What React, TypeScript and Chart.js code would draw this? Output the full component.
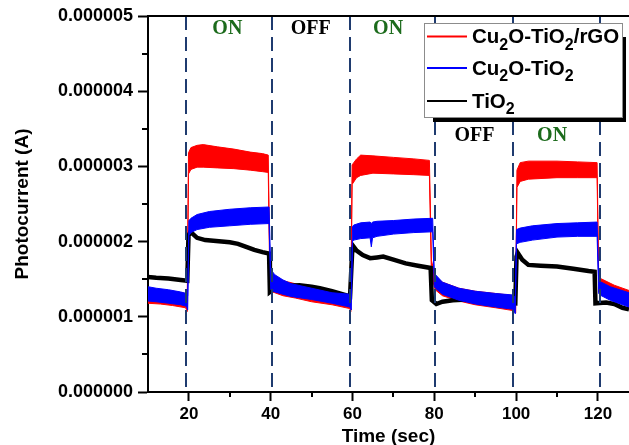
import React, { useEffect, useRef } from 'react';
import { Chart, registerables } from 'chart.js';

Chart.register(...registerables);

// ---- axes ----
const xTickValues = [20, 40, 60, 80, 100, 120];
const xMinorTicks = [30, 50, 70, 90, 110];
const yTickValues = [0, 1, 2, 3, 4, 5]; // in µA
const yTickLabels = ['0.000000', '0.000001', '0.000002', '0.000003', '0.000004', '0.000005'];
const yMinorTicks = [0.5, 1.5, 2.5, 3.5, 4.5];

// ---- legend / series ----
const seriesNames = ['Cu_2O-TiO_2/rGO', 'Cu_2O-TiO_2', 'TiO_2'];
const seriesColors = ['#ff0000', '#0000ff', '#000000'];

// ---- light switching annotations ----
const switchTimes = [19.2, 40.4, 59.5, 80.1, 99.2, 120.6];
const stateLabels = ['ON', 'OFF', 'ON', 'OFF', 'ON'];
const stateLabelX = [29.4, 49.8, 68.7, 89.8, 108.8];
const stateLabelY = [4.83, 4.83, 4.83, 3.40, 3.40];

// ---- Cu2O-TiO2/rGO (red) noisy band, values in µA ----
const redTime = [10, 13, 16, 19.2, 19.6, 19.9, 20.5, 22, 23.5, 27, 31, 35, 38, 39.4, 39.8, 40.5, 43, 46, 50, 55, 59.3, 59.6, 59.9, 61, 62, 65, 70, 75, 78.8, 79.3, 80.2, 82, 86, 90, 95, 99.6, 99.9, 100.2, 101, 103, 110, 115, 119.8, 120.2, 121, 124, 127.6];
const redUpper = [1.38, 1.36, 1.34, 1.31, 1.25, 3.18, 3.25, 3.28, 3.29, 3.26, 3.23, 3.19, 3.17, 3.15, 1.62, 1.56, 1.48, 1.44, 1.38, 1.33, 1.29, 1.25, 3.02, 3.10, 3.15, 3.14, 3.12, 3.10, 3.08, 1.75, 1.54, 1.46, 1.38, 1.34, 1.31, 1.28, 1.25, 2.95, 3.05, 3.07, 3.07, 3.06, 3.05, 1.52, 1.50, 1.42, 1.35];
const redLower = [1.18, 1.17, 1.15, 1.12, 1.07, 2.90, 2.96, 2.99, 2.99, 2.98, 2.97, 2.95, 2.93, 2.92, 1.40, 1.33, 1.28, 1.25, 1.20, 1.16, 1.11, 1.07, 2.76, 2.85, 2.88, 2.91, 2.90, 2.89, 2.88, 1.55, 1.36, 1.28, 1.21, 1.16, 1.12, 1.08, 1.05, 2.72, 2.80, 2.83, 2.85, 2.85, 2.85, 1.33, 1.30, 1.23, 1.14];

// ---- Cu2O-TiO2 (blue) noisy band ----
const blueTime = [10, 12, 15, 18, 19.4, 19.7, 20.0, 20.5, 22, 25, 30, 35, 39.6, 40.0, 41, 43, 45, 50, 55, 59.4, 59.7, 60.0, 60.3, 62, 64.3, 64.6, 64.9, 66, 70, 75, 79.6, 80.0, 80.3, 82, 86, 90, 95, 99.3, 99.8, 100.1, 101, 104, 110, 115, 119.8, 120.2, 120.5, 123, 127.6];
const blueUpper = [1.40, 1.38, 1.36, 1.33, 1.31, 1.28, 2.28, 2.31, 2.36, 2.40, 2.43, 2.45, 2.46, 1.63, 1.56, 1.49, 1.44, 1.38, 1.32, 1.30, 1.27, 2.20, 2.22, 2.25, 2.26, 2.24, 2.26, 2.27, 2.28, 2.30, 2.31, 1.58, 1.56, 1.46, 1.38, 1.34, 1.31, 1.29, 1.25, 2.16, 2.18, 2.21, 2.24, 2.25, 2.26, 1.50, 1.47, 1.40, 1.32];
const blueLower = [1.21, 1.20, 1.18, 1.16, 1.14, 1.09, 2.08, 2.12, 2.16, 2.19, 2.21, 2.23, 2.24, 1.36, 1.33, 1.30, 1.27, 1.23, 1.18, 1.13, 1.09, 2.00, 2.02, 2.04, 2.05, 1.93, 2.05, 2.07, 2.10, 2.12, 2.13, 1.40, 1.38, 1.30, 1.22, 1.17, 1.13, 1.10, 1.04, 1.97, 1.99, 2.02, 2.06, 2.07, 2.07, 1.31, 1.29, 1.22, 1.13];

// ---- TiO2 (black) ----
const blackTime = [10, 12, 15, 18, 19.6, 19.9, 20.4, 21, 22, 24, 26, 28, 30, 32, 34, 36, 38, 39.6, 39.8, 41, 43, 47, 50, 52, 55, 59.4, 59.9, 60.3, 61, 62.5, 64.3, 66, 67.5, 70, 73, 76, 79.1, 79.4, 80.5, 82, 84.5, 88, 92, 96, 99.8, 100.1, 100.4, 101.5, 103, 106, 110, 114, 117.7, 119.2, 119.4, 122, 124, 126, 127.6];
const blackValues = [1.53, 1.52, 1.51, 1.49, 1.48, 2.08, 2.13, 2.10, 2.05, 2.02, 2.01, 2.00, 1.99, 1.97, 1.93, 1.89, 1.86, 1.84, 1.33, 1.38, 1.41, 1.42, 1.40, 1.38, 1.34, 1.27, 1.85, 1.93, 1.88, 1.82, 1.78, 1.79, 1.80, 1.76, 1.71, 1.68, 1.65, 1.22, 1.17, 1.20, 1.22, 1.23, 1.22, 1.20, 1.18, 1.80, 1.85, 1.76, 1.69, 1.68, 1.67, 1.64, 1.61, 1.60, 1.18, 1.19, 1.17, 1.12, 1.10];

const toPoints = (t: number[], v: number[]) => t.map((tt, i) => ({ x: tt, y: v[i] }));

const SANS = '"Liberation Sans", Arial, sans-serif';
const SERIF = '"Liberation Serif", "Times New Roman", serif';

function drawRich(ctx: CanvasRenderingContext2D, text: string, x: number, baseline: number) {
  const parts = text.split(/_(\d)/);
  let cx = x;
  parts.forEach((p, i) => {
    if (!p) return;
    const sub = i % 2 === 1;
    ctx.font = sub ? `bold 16px ${SANS}` : `bold 20.5px ${SANS}`;
    ctx.fillText(p, cx, sub ? baseline + 6.5 : baseline);
    cx += ctx.measureText(p).width;
  });
}

const overlayPlugin = {
  id: 'overlay',
  afterDatasetsDraw(chart: any) {
    const { ctx, chartArea, scales } = chart;
    const x = scales.x;
    const y = scales.y;
    ctx.save();
    // dashed switching lines
    ctx.strokeStyle = '#1f3b6f';
    ctx.lineWidth = 2;
    ctx.setLineDash([14, 7]);
    for (const t of switchTimes) {
      const px = Math.round(x.getPixelForValue(t));
      ctx.beginPath();
      ctx.moveTo(px, chartArea.top);
      ctx.lineTo(px, chartArea.bottom);
      ctx.stroke();
    }
    ctx.setLineDash([]);
    // ON / OFF labels
    ctx.font = `bold 20px ${SERIF}`;
    ctx.textAlign = 'center';
    ctx.textBaseline = 'middle';
    stateLabels.forEach((s, i) => {
      ctx.fillStyle = s === 'ON' ? '#1c6b1c' : '#000000';
      ctx.fillText(s, x.getPixelForValue(stateLabelX[i]), y.getPixelForValue(stateLabelY[i]));
    });
    ctx.restore();
  },
  afterDraw(chart: any) {
    const { ctx, chartArea, scales } = chart;
    const x = scales.x;
    const y = scales.y;
    ctx.save();
    // minor ticks
    ctx.strokeStyle = '#000';
    ctx.lineWidth = 2;
    for (const v of yMinorTicks) {
      const py = Math.round(y.getPixelForValue(v));
      ctx.beginPath();
      ctx.moveTo(chartArea.left - 6, py);
      ctx.lineTo(chartArea.left, py);
      ctx.stroke();
    }
    for (const v of xMinorTicks) {
      const px = Math.round(x.getPixelForValue(v));
      ctx.beginPath();
      ctx.moveTo(px, chartArea.bottom);
      ctx.lineTo(px, chartArea.bottom + 5);
      ctx.stroke();
    }
    // top frame line
    ctx.beginPath();
    ctx.moveTo(chartArea.left - 1, chartArea.top);
    ctx.lineTo(chartArea.right, chartArea.top);
    ctx.stroke();

    // legend
    const bx = 424, by = 23, bw = 198, bh = 94;
    ctx.fillStyle = '#000';
    ctx.fillRect(bx + bw, by + 14, 4, bh - 14 + 5);
    ctx.fillRect(bx + 9, by + bh, bw - 9 + 4, 5);
    ctx.fillStyle = '#fff';
    ctx.fillRect(bx, by, bw, bh);
    ctx.strokeStyle = '#8c8c8c';
    ctx.lineWidth = 1;
    ctx.strokeRect(bx + 0.5, by + 0.5, bw, bh);
    const rowY = [36.5, 68, 101];
    seriesNames.forEach((name, i) => {
      ctx.strokeStyle = seriesColors[i];
      ctx.lineWidth = 2;
      ctx.beginPath();
      ctx.moveTo(427, rowY[i]);
      ctx.lineTo(467, rowY[i]);
      ctx.stroke();
      ctx.fillStyle = '#000';
      ctx.textAlign = 'left';
      ctx.textBaseline = 'alphabetic';
      drawRich(ctx, name, 472, rowY[i] + 6.8);
    });
    ctx.restore();
  },
};

export default function App() {
  const ref = useRef<HTMLCanvasElement>(null);
  useEffect(() => {
    const band = (color: string, order: number, label: string, t: number[], v: number[], fill: any) => ({
      label,
      data: toPoints(t, v),
      borderColor: color,
      backgroundColor: color,
      borderWidth: 1,
      pointRadius: 0,
      tension: 0,
      fill,
      order,
    });
    const chart = new Chart(ref.current as HTMLCanvasElement, {
      type: 'line',
      data: {
        datasets: [
          band(seriesColors[0], 3, seriesNames[0], redTime, redUpper, false),
          band(seriesColors[0], 3, seriesNames[0] + ' low', redTime, redLower, '-1'),
          band(seriesColors[1], 1, seriesNames[1], blueTime, blueUpper, false),
          band(seriesColors[1], 1, seriesNames[1] + ' low', blueTime, blueLower, '-1'),
          {
            label: seriesNames[2],
            data: toPoints(blackTime, blackValues),
            borderColor: seriesColors[2],
            borderWidth: 4.5,
            pointRadius: 0,
            tension: 0,
            fill: false,
            order: 2,
          },
        ] as any,
      },
      options: {
        responsive: false,
        animation: false,
        layout: { padding: { left: 0, right: 0, top: 16, bottom: 0 } },
        plugins: { legend: { display: false }, tooltip: { enabled: false } },
        scales: {
          x: {
            type: 'linear',
            min: 10,
            max: 127.6,
            afterBuildTicks: (s: any) => {
              s.ticks = xTickValues.map((v) => ({ value: v }));
            },
            afterFit: (s: any) => {
              s.height = 53;
            },
            grid: { display: true, drawOnChartArea: false, drawTicks: true, tickLength: 9, tickWidth: 2, tickColor: '#000' },
            border: { display: true, color: '#000', width: 2 },
            ticks: {
              color: '#000',
              font: { family: SANS, size: 17, weight: 'bold' },
              padding: 3,
              maxRotation: 0,
              autoSkip: false,
              callback: (v: any) => String(v),
            },
            title: {
              display: true,
              text: 'Time (sec)',
              color: '#000',
              font: { family: SANS, size: 19, weight: 'bold', lineHeight: 0.9 },
              padding: { top: 0, bottom: 0 },
            },
          },
          y: {
            type: 'linear',
            min: 0,
            max: 5,
            afterBuildTicks: (s: any) => {
              s.ticks = yTickValues.map((v) => ({ value: v }));
            },
            afterFit: (s: any) => {
              s.width = 148;
            },
            grid: { display: true, drawOnChartArea: false, drawTicks: true, tickLength: 10, tickWidth: 2, tickColor: '#000' },
            border: { display: true, color: '#000', width: 2 },
            ticks: {
              color: '#000',
              font: { family: SANS, size: 18, weight: 'bold' },
              padding: 5,
              autoSkip: false,
              callback: (_v: any, i: number) => yTickLabels[i],
            },
            title: {
              display: true,
              text: 'Photocurrent (A)',
              color: '#000',
              font: { family: SANS, size: 19, weight: 'bold', lineHeight: 1.2 },
              padding: { top: 11, bottom: 0 },
            },
          },
        },
      } as any,
      plugins: [overlayPlugin],
    });
    return () => chart.destroy();
  }, []);
  return (
    <div style={{ position: 'absolute', left: 0, top: 0, width: 629, height: 445, background: '#fff' }}>
      <canvas ref={ref} width={629} height={445} style={{ display: 'block' }} />
    </div>
  );
}
